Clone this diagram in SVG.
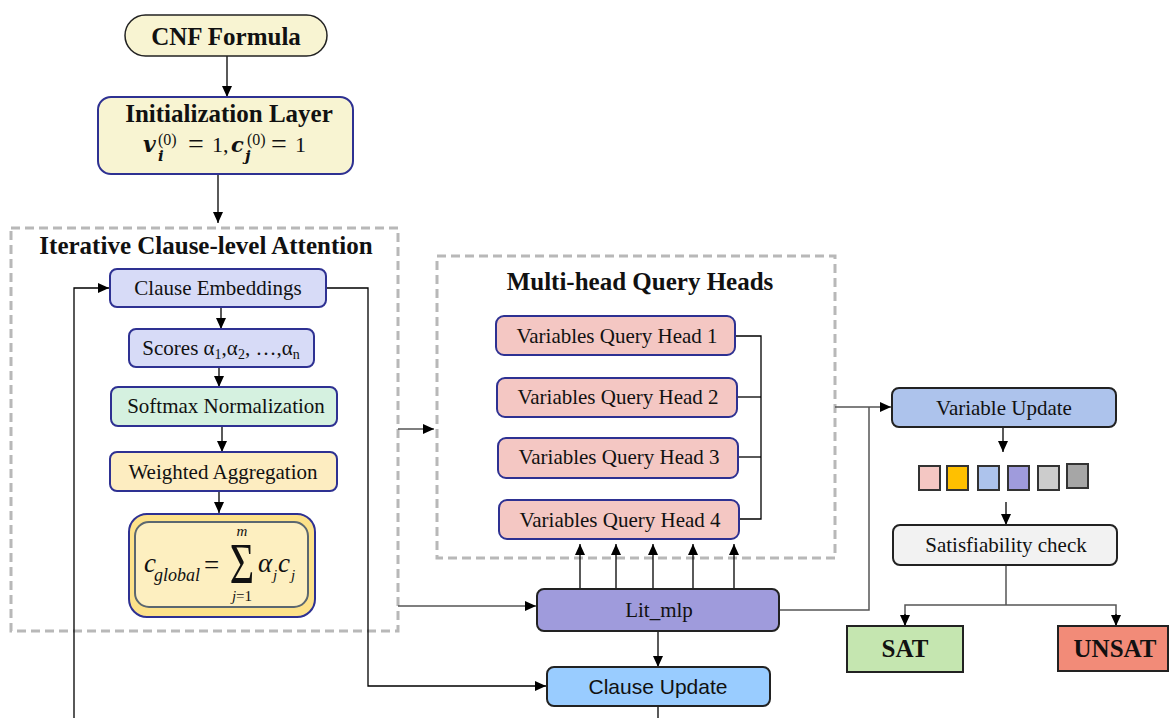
<svg xmlns="http://www.w3.org/2000/svg" width="1169" height="718" viewBox="0 0 1169 718">
<defs>
<marker id="ah" markerWidth="12" markerHeight="10" refX="11" refY="5" orient="auto" markerUnits="userSpaceOnUse">
<path d="M0,0 L11,5 L0,10 Z" fill="#000"/>
</marker>
<style>
text{font-family:"Liberation Serif","Times New Roman",serif;fill:#111}
.lbl{font-size:21px;text-anchor:middle}
.sans{font-family:"Liberation Sans",Arial,sans-serif}
.bold{font-weight:bold;font-size:25px;text-anchor:middle}
.nb{stroke:#2e3192;stroke-width:2}
.kb{stroke:#222;stroke-width:2}
.dash{fill:none;stroke:#b8b8b8;stroke-width:3;stroke-dasharray:9 5}
.c{fill:none;stroke:#000;stroke-width:1.3}
.g{fill:none;stroke:#555;stroke-width:1.5}
.m{font-style:italic}
.mb{font-family:"DejaVu Serif",serif;font-style:italic;font-weight:bold}
</style>
</defs>
<rect width="1169" height="718" fill="#fff"/>

<!-- containers -->
<g id="attention-group">
<rect class="dash" x="11" y="228" width="387" height="403"/>
<text class="bold" x="206" y="254" font-size="25.5">Iterative Clause-level Attention</text>
</g>
<g id="multihead-group">
<rect class="dash" x="437" y="256" width="398" height="302"/>
<text class="bold" x="640" y="290">Multi-head Query Heads</text>
</g>

<!-- connectors -->
<g id="connectors">
<line class="c" x1="227" y1="56" x2="227" y2="97" marker-end="url(#ah)"/>
<line class="c" x1="218" y1="174" x2="218" y2="223" marker-end="url(#ah)"/>
<line class="c" x1="221" y1="307" x2="221" y2="329" marker-end="url(#ah)"/>
<line class="c" x1="219" y1="367" x2="219" y2="387" marker-end="url(#ah)"/>
<line class="c" x1="222" y1="426" x2="222" y2="452" marker-end="url(#ah)"/>
<line class="c" x1="219" y1="491" x2="219" y2="513" marker-end="url(#ah)"/>
<polyline class="c" points="74,718 74,288 109,288" marker-end="url(#ah)"/>
<polyline class="c" points="326,288 368,288 368,686 546,686" marker-end="url(#ah)"/>
<line class="g" x1="398" y1="429" x2="434" y2="429" marker-end="url(#ah)"/>
<line class="g" x1="398" y1="606" x2="536" y2="606" marker-end="url(#ah)"/>
<polyline class="c" points="735,336 761,336 761,519 739,519"/>
<line class="c" x1="737" y1="397" x2="761" y2="397"/>
<line class="c" x1="738" y1="457" x2="761" y2="457"/>
<line class="c" x1="580" y1="589" x2="580" y2="544" marker-end="url(#ah)"/>
<line class="c" x1="616" y1="589" x2="616" y2="544" marker-end="url(#ah)"/>
<line class="c" x1="653" y1="589" x2="653" y2="544" marker-end="url(#ah)"/>
<line class="c" x1="693" y1="589" x2="693" y2="544" marker-end="url(#ah)"/>
<line class="c" x1="734" y1="589" x2="734" y2="544" marker-end="url(#ah)"/>
<line class="c" x1="658" y1="631" x2="658" y2="667" marker-end="url(#ah)"/>
<line class="c" x1="658" y1="706" x2="658" y2="718"/>
<line class="g" x1="835" y1="407" x2="891" y2="407" marker-end="url(#ah)"/>
<polyline class="g" points="780,610 869,610 869,407"/>
<line class="c" x1="1003" y1="427" x2="1003" y2="452" marker-end="url(#ah)"/>
<line class="c" x1="1006" y1="502" x2="1006" y2="525" marker-end="url(#ah)"/>
<polyline class="g" points="1006,565 1006,605"/>
<polyline class="g" points="905,626 905,605 1116,605 1116,626"/>
<line class="c" x1="905" y1="614" x2="905" y2="626" marker-end="url(#ah)"/>
<line class="c" x1="1116" y1="614" x2="1116" y2="626" marker-end="url(#ah)"/>
</g>

<!-- nodes -->
<g id="cnf">
<rect x="125" y="15" width="202" height="41" rx="20.5" fill="#f8f4d2" stroke="#222" stroke-width="1.5"/>
<text class="bold" x="226" y="45">CNF Formula</text>
</g>
<g id="init">
<rect class="nb" x="98" y="97" width="255" height="77" rx="13" fill="#f8f4d2"/>
<text class="bold" x="229" y="122">Initialization Layer</text>
<text x="143" y="152" font-size="22" class="mb">v</text>
<text x="158" y="145" font-size="16">(0)</text>
<text x="158" y="161" font-size="15" class="mb">i</text>
<text x="188" y="153" font-size="28">=</text>
<text x="212" y="152" font-size="22">1,</text>
<text x="231" y="152" font-size="21" class="mb">c</text>
<text x="247" y="145" font-size="16">(0)</text>
<text x="245" y="161" font-size="15" class="mb">j</text>
<text x="271" y="153" font-size="28">=</text>
<text x="295" y="152" font-size="22">1</text>
</g>
<g id="clause-emb">
<rect class="nb" x="110" y="269" width="216" height="38" rx="7" fill="#d7dbf7"/>
<text class="lbl" x="218" y="295">Clause Embeddings</text>
</g>
<g id="scores">
<rect class="nb" x="129" y="329" width="185" height="38" rx="7" fill="#d7dbf7"/>
<text class="lbl" x="221" y="355">Scores α<tspan font-size="14" dy="4">1</tspan><tspan dy="-4">,α</tspan><tspan font-size="14" dy="4">2</tspan><tspan dy="-4">, …,α</tspan><tspan font-size="14" dy="4">n</tspan></text>
</g>
<g id="softmax">
<rect class="nb" x="111" y="387" width="226" height="39" rx="7" fill="#d5f1e0"/>
<text class="lbl" x="226" y="413">Softmax Normalization</text>
</g>
<g id="weighted">
<rect class="nb" x="110" y="452" width="227" height="39" rx="7" fill="#fdedc1"/>
<text class="lbl" x="223" y="479">Weighted Aggregation</text>
</g>
<g id="global">
<rect class="nb" x="129" y="514" width="186" height="103" rx="18" fill="#fde28a"/>
<rect x="135" y="522" width="173" height="85" rx="14" fill="#fdefc0" stroke="#5b6770" stroke-width="2"/>
<text x="144" y="572" font-size="27" class="m">c</text>
<text x="154" y="581" font-size="18" class="m">global</text>
<text x="204" y="574" font-size="27">=</text>
<text transform="translate(242,583) scale(1,1.35)" text-anchor="middle" font-size="42">Σ</text>
<text x="242" y="536" font-size="15" class="m" text-anchor="middle">m</text>
<text x="242" y="601" font-size="15" text-anchor="middle"><tspan class="m">j</tspan>=1</text>
<text x="258" y="572" font-size="27" class="m">α</text>
<text x="273" y="580" font-size="15" class="m">j</text>
<text x="278" y="572" font-size="27" class="m">c</text>
<text x="291" y="580" font-size="15" class="m">j</text>
</g>
<g id="head1">
<rect class="nb" x="496" y="316" width="239" height="39" rx="8" fill="#f4c7c3"/>
<text class="lbl" x="617" y="343">Variables Query Head 1</text>
</g>
<g id="head2">
<rect class="nb" x="497" y="378" width="240" height="39" rx="8" fill="#f4c7c3"/>
<text class="lbl" x="618" y="404">Variables Query Head 2</text>
</g>
<g id="head3">
<rect class="nb" x="498" y="438" width="240" height="40" rx="8" fill="#f4c7c3"/>
<text class="lbl" x="619" y="464">Variables Query Head 3</text>
</g>
<g id="head4">
<rect class="nb" x="499" y="500" width="240" height="39" rx="8" fill="#f4c7c3"/>
<text class="lbl" x="620" y="527">Variables Query Head 4</text>
</g>
<g id="litmlp">
<rect class="kb" x="537" y="589" width="242" height="42" rx="7" fill="#9f9bdc"/>
<text class="lbl" x="659" y="617">Lit_mlp</text>
</g>
<g id="clause-update">
<rect class="kb" x="547" y="667" width="223" height="39" rx="7" fill="#99ccff"/>
<text class="lbl sans" x="658" y="694">Clause Update</text>
</g>
<g id="variable-update">
<rect class="kb" x="892" y="388" width="224" height="39" rx="7" fill="#adc3ec"/>
<text class="lbl" x="1004" y="415">Variable Update</text>
</g>
<g id="vector">
<rect x="919" y="466" width="21" height="24" fill="#f4c7c3" stroke="#333" stroke-width="2"/>
<rect x="947" y="466" width="21" height="24" fill="#ffc000" stroke="#333" stroke-width="2"/>
<rect x="978" y="466" width="21" height="24" fill="#adc3ec" stroke="#333" stroke-width="2"/>
<rect x="1008" y="466" width="21" height="24" fill="#9f9bdc" stroke="#333" stroke-width="2"/>
<rect x="1038" y="466" width="21" height="24" fill="#cccccc" stroke="#333" stroke-width="2"/>
<rect x="1067" y="464" width="21" height="24" fill="#a6a6a6" stroke="#333" stroke-width="2"/>
</g>
<g id="sat-check">
<rect class="kb" x="893" y="525" width="224" height="40" rx="7" fill="#f2f2f2"/>
<text class="lbl" x="1006" y="552">Satisfiability check</text>
</g>
<g id="sat">
<rect class="kb" x="847" y="626" width="116" height="46" fill="#c5e6b0"/>
<text class="bold" x="905" y="657">SAT</text>
</g>
<g id="unsat">
<rect class="kb" x="1058" y="626" width="110" height="45" fill="#f28b78"/>
<text class="bold" x="1115" y="657">UNSAT</text>
</g>
</svg>
